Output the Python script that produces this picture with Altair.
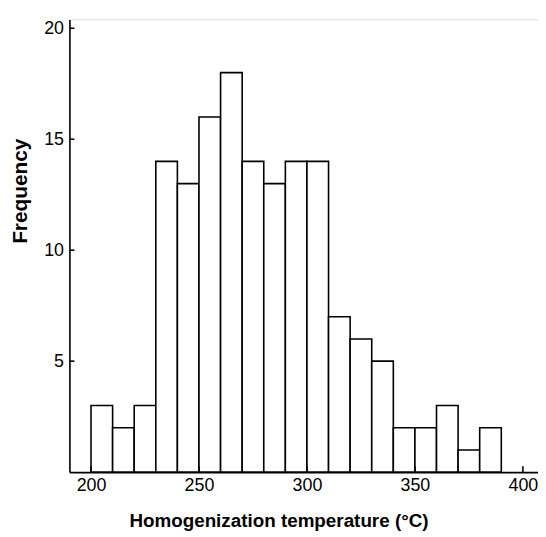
import altair as alt
import pandas as pd

bin_start = [200, 210, 220, 230, 240, 250, 260, 270, 280, 290, 300, 310, 320, 330, 340, 350, 360, 370, 380]
counts = [3, 2, 3, 14, 13, 16, 18, 14, 13, 14, 14, 7, 6, 5, 2, 2, 3, 1, 2]
bin_width = 10
x_ticks = [200, 250, 300, 350, 400]
y_ticks = [5, 10, 15, 20]

df = pd.DataFrame({"start": bin_start, "count": counts})
df["end"] = df["start"] + bin_width

W, H = 473, 457
xscale = alt.Scale(domain=[190, 407], nice=False, zero=False)
yscale = alt.Scale(domain=[0, 20.4], nice=False)

FONT = "Liberation Sans"

bars = alt.Chart(df).mark_rect(fill="white", stroke="black", strokeWidth=1.6).encode(
    x=alt.X("start:Q", scale=xscale,
            axis=alt.Axis(values=x_ticks, ticks=False, grid=False, domainColor="black",
                          domainWidth=1.6, labelFont=FONT, labelFontSize=18, labelColor="black",
                          labelPadding=5,
                          title="Homogenization temperature (°C)", titleFont=FONT,
                          titleFontSize=19, titleFontWeight="bold", titleColor="black",
                          titleX=211, titleY=55, titleBaseline="alphabetic")),
    x2="end:Q",
    y=alt.Y("count:Q", scale=yscale,
            axis=alt.Axis(values=y_ticks, ticks=False, grid=False, domainColor="black",
                          domainWidth=1.6, labelFont=FONT, labelFontSize=18, labelColor="black",
                          labelPadding=6,
                          title="Frequency", titleFont=FONT, titleFontSize=21,
                          titleFontWeight="bold", titleColor="black", titleAngle=270,
                          titleX=-43, titleY=173, titleBaseline="alphabetic")),
    y2=alt.datum(0),
)

yt = alt.Chart(pd.DataFrame({"v": y_ticks})).mark_rule(color="black", strokeWidth=1.6).encode(
    y=alt.Y("v:Q", scale=yscale), x=alt.value(0), x2=alt.value(5)
)
xt = alt.Chart(pd.DataFrame({"v": x_ticks})).mark_rule(color="black", strokeWidth=1.6).encode(
    x=alt.X("v:Q", scale=xscale), y=alt.value(H), y2=alt.value(H - 6)
)

chart = alt.layer(bars, yt, xt).properties(
    width=W, height=H,
    autosize=alt.AutoSizeParams(type="none"),
    padding={"left": 62, "top": 9, "right": 0, "bottom": 62},
).configure_view(stroke=None).configure(background="white")

chart.save("out.html", embed_options={"renderer": "svg", "actions": False})
